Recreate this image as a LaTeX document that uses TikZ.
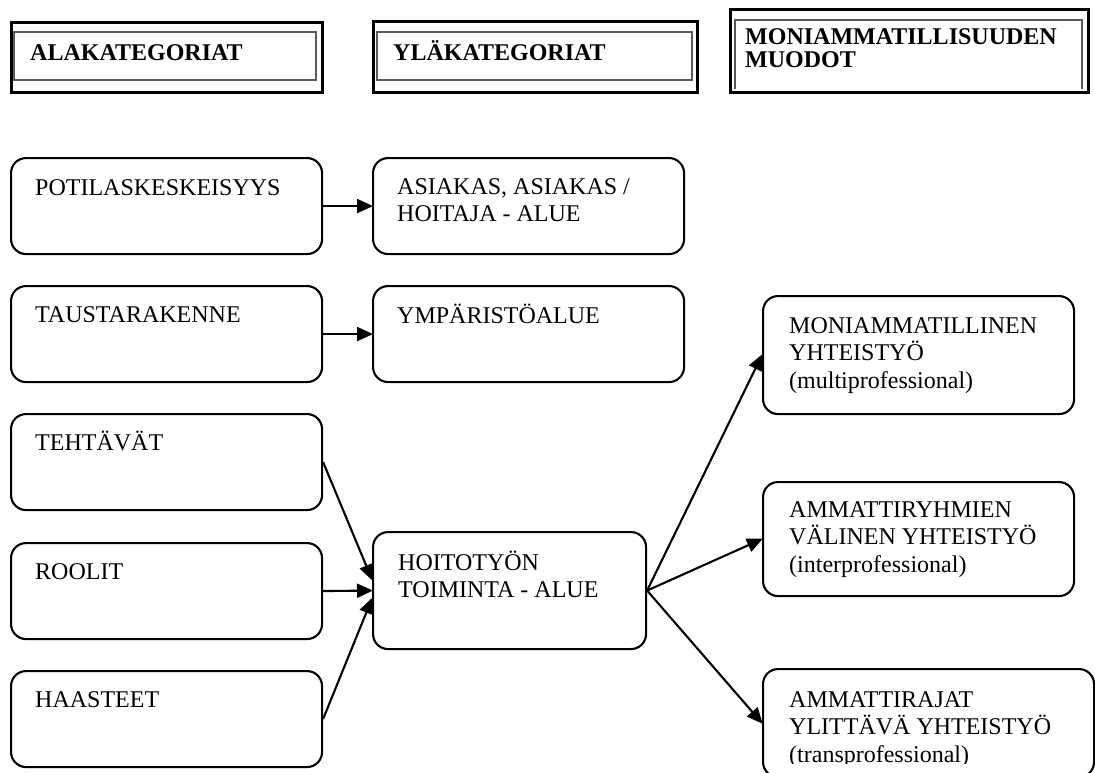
\documentclass[tikz,border=0pt]{standalone}
\usepackage{fontspec}
\setmainfont{Liberation Serif}
\usetikzlibrary{arrows.meta,calc}
\begin{document}
\begin{tikzpicture}[x=1pt,y=-1pt,
  rbox/.style={draw, line width=2.1pt, rounded corners=15pt, inner sep=0pt, anchor=north west},
  hbox/.style={draw, line width=2.8pt, inner sep=0pt, anchor=north west},
  hin/.style={draw=black!65, line width=1.7pt},
  txt/.style={anchor=base west, inner sep=0pt, align=left, font=\fontsize{24}{27.5}\selectfont},
  htxt/.style={anchor=base west, inner sep=0pt, align=left, font=\fontsize{24}{23}\selectfont\bfseries},
  arr/.style={line width=2.1pt, -{Triangle[length=16pt,width=14pt]}, shorten >=-1pt}]
\path[use as bounding box, clip] (0,0) rectangle (1095,772);
\fill[white] (0,0) rectangle (1095,772);

% header boxes
\node[hbox, minimum width=311, minimum height=70] (h1) at (10,21) {};
\draw[hin] (14,32) rectangle (316,80);
\node[htxt] (h1t) at (30,60) {ALAKATEGORIAT};
\node[hbox, minimum width=324, minimum height=71] (h2) at (372,20) {};
\draw[hin] (377,32) rectangle (692,80);
\node[htxt] (h2t) at (393,60) {YLÄKATEGORIAT};
\node[hbox, minimum width=358, minimum height=83] (h3) at (729,8) {};
\draw[hin] (735,89) -- (735,20) -- (1082,20) -- (1082,89);
\node[htxt] (h3t) at (745,67) {MONIAMMATILLISUUDEN\\MUODOT};

% left column
\node[rbox, minimum width=311, minimum height=96] (pot) at (10,157) {};
\node[txt] at (35,195) {POTILASKESKEISYYS};
\node[rbox, minimum width=311, minimum height=96] (tau) at (10,285) {};
\node[txt] at (35,322) {TAUSTARAKENNE};
\node[rbox, minimum width=311, minimum height=96] (teh) at (10,413) {};
\node[txt] at (35,450) {TEHTÄVÄT};
\node[rbox, minimum width=311, minimum height=96] (roo) at (10,542) {};
\node[txt] at (35,579) {ROOLIT};
\node[rbox, minimum width=311, minimum height=96] (haa) at (10,670) {};
\node[txt] at (35,707) {HAASTEET};

% middle column
\node[rbox, minimum width=311, minimum height=96] (asi) at (372,157) {};
\node[txt] at (397,221.5) {ASIAKAS, ASIAKAS /\\HOITAJA - ALUE};
\node[rbox, minimum width=311, minimum height=96] (ymp) at (372,285) {};
\node[txt] at (397,323) {YMPÄRISTÖALUE};
\node[rbox, minimum width=273, minimum height=117] (hoi) at (372,531) {};
\node[txt] at (398,597.5) {HOITOTYÖN\\TOIMINTA - ALUE};

% right column
\node[rbox, minimum width=311, minimum height=118] (mon) at (762,295) {};
\node[txt] at (789,388) {MONIAMMATILLINEN\\YHTEISTYÖ\\(multiprofessional)};
\node[rbox, minimum width=311, minimum height=114] (amr) at (762,481) {};
\node[txt] at (789,572) {AMMATTIRYHMIEN\\VÄLINEN YHTEISTYÖ\\(interprofessional)};
\node[rbox, minimum width=331, minimum height=108] (amt) at (762,668) {};
\begin{scope}
\clip (762,668) rectangle (1093,763);
\node[txt] at (789,762) {AMMATTIRAJAT\\YLITTÄVÄ YHTEISTYÖ\\(transprofessional)};
\end{scope}

% connectors
\draw[arr] (pot.east) -- (asi.west);
\draw[arr] (tau.east) -- (ymp.west);
\draw[arr] (teh.east) -- ($(hoi.west)+(0,-11)$);
\draw[arr] (roo.east) -- (hoi.west);
\draw[arr] (haa.east) -- ($(hoi.west)+(0,8)$);
\draw[arr] (hoi.east) -- (mon.west);
\draw[arr] (hoi.east) -- (amr.west);
\draw[arr] (hoi.east) -- (amt.west);
\end{tikzpicture}
\end{document}
